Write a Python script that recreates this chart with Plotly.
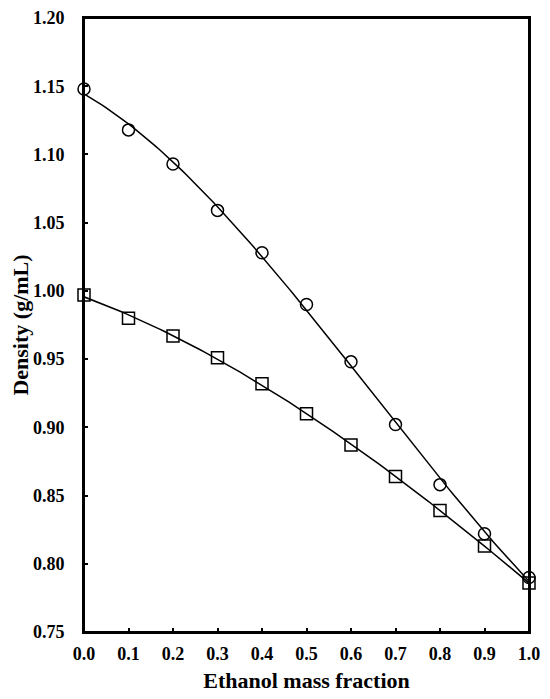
'''
Density of mixtures vs ethanol mass fraction
'''

import numpy as np
from plotly.graph_objects import Scatter, Figure

# data
ethanol_fraction = [0.0, 0.1, 0.2, 0.3, 0.4, 0.5, 0.6, 0.7, 0.8, 0.9, 1.0]
density_circles = [1.148, 1.118, 1.093, 1.059, 1.028, 0.990, 0.948, 0.902, 0.858, 0.822, 0.790]
density_squares = [0.997, 0.980, 0.967, 0.951, 0.932, 0.910, 0.887, 0.864, 0.839, 0.813, 0.786]

x_ticks = [0.0, 0.1, 0.2, 0.3, 0.4, 0.5, 0.6, 0.7, 0.8, 0.9, 1.0]
y_ticks = [0.75, 0.80, 0.85, 0.90, 0.95, 1.00, 1.05, 1.10, 1.15, 1.20]

FONT = "Liberation Serif"


def fit_line(x, y, deg=3):
    '''polynomial trend line through the measured points'''
    coef = np.polyfit(x, y, deg)
    xs = np.linspace(min(x), max(x), 101)
    return xs, np.polyval(coef, xs)


def main():
    fig = Figure()

    for ys, symbol in [(density_circles, "circle-open"), (density_squares, "square-open")]:
        xs, yf = fit_line(ethanol_fraction, ys)
        fig.add_trace(Scatter(x=xs, y=yf, mode="lines",
                              line=dict(color="black", width=1.5),
                              hoverinfo="skip", cliponaxis=False))
        fig.add_trace(Scatter(x=ethanol_fraction, y=ys, mode="markers",
                              marker=dict(symbol=symbol, size=12, color="black",
                                          line=dict(width=1.5, color="black")),
                              cliponaxis=False))

    axis_style = dict(showline=True, mirror=True, linecolor="black", linewidth=2,
                      ticks="inside", ticklen=4, tickwidth=1.5, tickcolor="black",
                      showgrid=False, zeroline=False, automargin=False,
                      ticklabeloverflow="allow",
                      tickfont=dict(family=FONT, size=18, color="black"))

    # frame round the plot area
    fig.add_shape(type="rect", xref="paper", yref="paper", x0=0, y0=0, x1=1, y1=1,
                  line=dict(color="black", width=2), layer="above")

    # the page body adds 8px on the left and top, so the figure is kept 8px smaller
    fig.update_layout(
        width=542, height=691,
        margin=dict(l=76, r=21, t=10, b=67),
        plot_bgcolor="white", paper_bgcolor="white",
        showlegend=False,
        font=dict(family=FONT, color="black"),
        xaxis=dict(range=[0, 1], tickvals=x_ticks,
                   ticktext=[f"<b>{v:.1f}</b>" for v in x_ticks],
                   ticklabelstandoff=4,
                   title=dict(text="<b>Ethanol mass fraction</b>",
                              font=dict(family=FONT, size=22), standoff=10),
                   **axis_style),
        yaxis=dict(range=[0.75, 1.20], tickvals=y_ticks,
                   ticktext=[f"<b>{v:.2f}</b>" for v in y_ticks],
                   ticklabelstandoff=14,
                   title=dict(text="<b>Density (g/mL)</b>",
                              font=dict(family=FONT, size=22), standoff=10),
                   **axis_style),
    )

    fig.write_html("out.html")


if __name__ == "__main__":
    main()
